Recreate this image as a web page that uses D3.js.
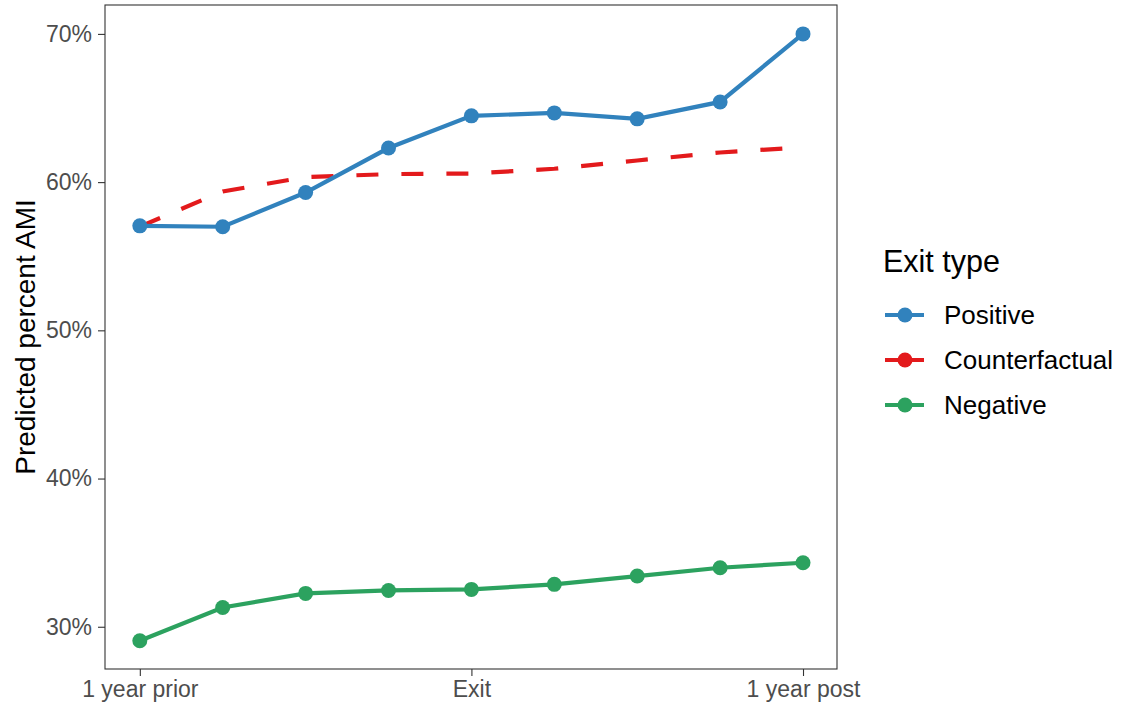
<!DOCTYPE html>
<html><head><meta charset="utf-8">
<script src="https://cdn.jsdelivr.net/npm/d3@7"></script>
<style>body{margin:0;background:#fff;} text{font-family:"Liberation Sans",Arial,sans-serif;}</style>
</head><body>
<svg id="chart" width="1123" height="713"></svg>
<script>
const steps = [0,1,2,3,4,5,6,7,8];
const xTickValues = [0,4,8];
const xTickLabels = ["1 year prior","Exit","1 year post"];
const yTicks = [30,40,50,60,70];
const seriesNames = ["Positive","Counterfactual","Negative"];
const positive = [57.05,56.99,59.3,62.3,64.47,64.67,64.27,65.41,70.0];
const counterfactual = [57.0,59.37,60.34,60.54,60.58,60.9,61.46,62.0,62.35];
const negative = [29.06,31.3,32.25,32.45,32.52,32.86,33.42,33.98,34.32];
const colors = ["#3182bd","#e31a1c","#2ca25f"];

const svg = d3.select("#chart");
const L=105,R=837,T=5,B=669;
const x = d3.scaleLinear().domain([-0.42,8.41]).range([L,R]);
const y = d3.scaleLinear().domain([27.15,71.95]).range([B,T]);

svg.append("rect").attr("x",L).attr("y",T).attr("width",R-L).attr("height",B-T)
  .attr("fill","#fff").attr("stroke","#333").attr("stroke-width",1.1);

const ya = svg.append("g").attr("transform",`translate(${L},0)`)
  .call(d3.axisLeft(y).tickValues(yTicks).tickSize(7).tickPadding(6).tickFormat(d=>d+"%"));
ya.select(".domain").remove();
ya.selectAll("line").attr("stroke","#333").attr("stroke-width",1.1);
ya.selectAll("text").attr("fill","#4d4d4d").style("font-size","23px");

const xa = svg.append("g").attr("transform",`translate(0,${B})`)
  .call(d3.axisBottom(x).tickValues(xTickValues).tickSize(7).tickPadding(5).tickFormat((d,i)=>xTickLabels[i]));
xa.select(".domain").remove();
xa.selectAll("line").attr("stroke","#333").attr("stroke-width",1.1);
xa.selectAll("text").attr("fill","#4d4d4d").style("font-size","23px");

svg.append("text").attr("transform",`translate(35,${(T+B)/2}) rotate(-90)`)
  .attr("text-anchor","middle").style("font-size","28px").attr("fill","#000")
  .text("Predicted percent AMI");

const line = d3.line().x((d,i)=>x(steps[i])).y(d=>y(d));
const data = [positive,counterfactual,negative];
svg.append("path").datum(counterfactual).attr("d",line).attr("fill","none")
  .attr("stroke",colors[1]).attr("stroke-width",4.2).attr("stroke-dasharray","22,23");
[0,2].forEach(k=>{
  svg.append("path").datum(data[k]).attr("d",line).attr("fill","none")
    .attr("stroke",colors[k]).attr("stroke-width",4.2);
  svg.selectAll(null).data(data[k]).enter().append("circle")
    .attr("cx",(d,i)=>x(steps[i])).attr("cy",d=>y(d)).attr("r",7.5).attr("fill",colors[k]);
});

const lg = svg.append("g");
lg.append("text").attr("x",883).attr("y",272).style("font-size","30.5px").attr("fill","#000").text("Exit type");
const ly = d3.scaleOrdinal().domain(seriesNames).range([315,360,405]);
seriesNames.forEach((n,i)=>{
  const yy = ly(n);
  lg.append("line").attr("x1",885).attr("x2",924).attr("y1",yy).attr("y2",yy)
    .attr("stroke",colors[i]).attr("stroke-width",4.2);
  lg.append("circle").attr("cx",905).attr("cy",yy).attr("r",7.5).attr("fill",colors[i]);
  lg.append("text").attr("x",944).attr("y",yy+9).style("font-size","26px").attr("fill","#000").text(n);
});
</script>
</body></html>
